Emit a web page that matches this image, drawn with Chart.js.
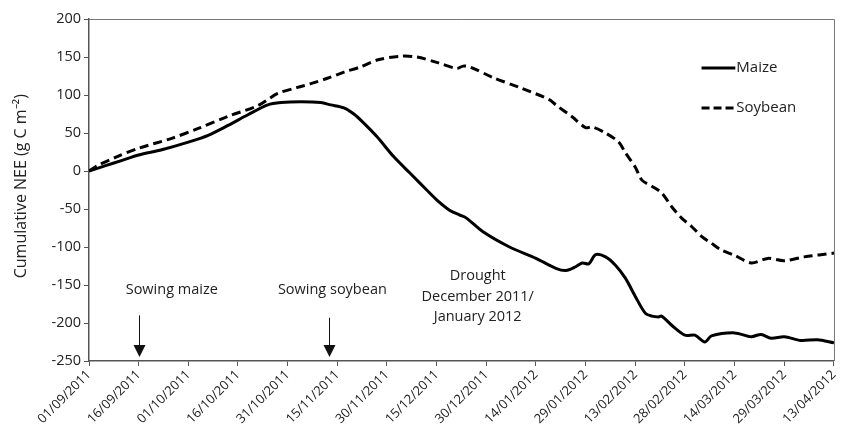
<!DOCTYPE html>
<html>
<head>
<meta charset="utf-8">
<script src="https://cdn.jsdelivr.net/npm/chart.js@4/dist/chart.umd.min.js"></script>
<style>
  html, body { margin: 0; padding: 0; background: #fff; }
  #wrap { width: 846px; height: 431px; }
</style>
</head>
<body>
<div id="wrap"><canvas id="neeChart"></canvas></div>
<script>
// Days since 01/09/2011 and cumulative NEE (g C m-2)
const maizeDays = [0, 5, 10, 15, 22, 30, 36, 42, 48, 54, 58, 64, 70, 73, 77, 80, 83, 87, 92, 97, 102, 105, 109, 112, 114, 119, 127, 135, 141, 144, 147, 149, 151, 153, 156, 159, 162, 165, 168, 170, 172, 173, 176, 180, 183, 186, 188, 195, 200, 203, 206, 210, 215, 220, 225];
const maizeNEE = [0, 7, 14, 21, 28, 38, 47, 60, 74, 87, 90, 91, 90, 87, 83, 75, 63, 45, 19, -3, -25, -38, -52, -58, -62, -80, -100, -115, -128, -131, -126, -121, -122, -110, -113, -124, -141, -165, -187, -191, -192, -191, -203, -216, -216, -225, -217, -213, -218, -215, -220, -218, -223, -222, -226];

const soyDays = [0, 3, 8, 15, 25, 33, 42, 51, 57, 63, 67, 72, 77, 82, 87, 94, 99, 105, 111, 113, 115, 122, 130, 139, 141, 146, 150, 152, 156, 160, 162, 165, 167, 170, 173, 176, 179, 182, 185, 188, 191, 195, 200, 205, 210, 216, 225];
const soyNEE = [0, 8, 18, 30, 43, 56, 72, 86, 102, 110, 115, 122, 130, 137, 146, 151, 150, 143, 135, 138, 137, 123, 110, 94, 87, 71, 57, 58, 50, 38, 24, 5, -12, -20, -29, -47, -62, -73, -86, -95, -104, -111, -121, -115, -118, -113, -108];

const yTicks = [-250, -200, -150, -100, -50, 0, 50, 100, 150, 200];
const startDate = new Date(2011, 8, 1);

const FONT = '"Open Sans", sans-serif';
const TEXT = '#222';
const AXIS = '#555';

function dateLabel(day) {
    const d = new Date(startDate.getTime());
    d.setDate(d.getDate() + day);
    const dd = String(d.getDate()).padStart(2, '0');
    const mm = String(d.getMonth() + 1).padStart(2, '0');
    return dd + '/' + mm + '/' + d.getFullYear();
}

// box, axis title, arrows, notes and legend
const extras = {
    id: 'extras',
    afterDraw(chart) {
        const c = chart.ctx;
        const a = chart.chartArea;
        const xs = chart.scales.x;
        const ys = chart.scales.y;
        const px = v => xs.getPixelForValue(v);
        const py = v => ys.getPixelForValue(v);

        c.save();
        // top and right frame
        c.strokeStyle = '#777';
        c.lineWidth = 1;
        c.beginPath();
        c.moveTo(a.left, a.top + 0.5);
        c.lineTo(a.right + 0.5, a.top + 0.5);
        c.lineTo(a.right + 0.5, a.bottom);
        c.stroke();

        // y axis title
        c.save();
        c.translate(21, py(-20));
        c.rotate(-Math.PI / 2);
        c.fillStyle = TEXT;
        c.font = '16px ' + FONT;
        c.textAlign = 'center';
        c.textBaseline = 'middle';
        c.fillText('Cumulative NEE (g C m\u207B\u00B2)', 0, 0);
        c.restore();

        // notes
        c.fillStyle = TEXT;
        c.font = '14.5px ' + FONT;
        c.textAlign = 'center';
        c.textBaseline = 'middle';
        c.fillText('Sowing maize', px(25), py(-157));
        c.fillText('Sowing soybean', px(73.5), py(-157));
        c.fillText('Drought', px(117.4), py(-138));
        c.fillText('December 2011/', px(117.4), py(-165));
        c.fillText('January 2012', px(117.4), py(-192));

        // arrows
        function arrow(day, fromV) {
            const x = Math.round(px(day)) + 0.5;
            const y0 = py(fromV);
            const y1 = a.bottom - 4;
            c.strokeStyle = '#111';
            c.lineWidth = 1;
            c.beginPath();
            c.moveTo(x, y0);
            c.lineTo(x, y1 - 10);
            c.stroke();
            c.fillStyle = '#111';
            c.beginPath();
            c.moveTo(x - 6, y1 - 12);
            c.lineTo(x + 6, y1 - 12);
            c.lineTo(x, y1);
            c.closePath();
            c.fill();
        }
        arrow(15, -190);
        arrow(72.5, -193);

        // legend
        const lx0 = px(185), lx1 = px(195.2);
        const entries = [
            { label: 'Maize', y: py(135.5), dash: [] },
            { label: 'Soybean', y: py(83), dash: [8, 4] }
        ];
        entries.forEach(e => {
            c.strokeStyle = '#000';
            c.lineWidth = 3;
            c.setLineDash(e.dash);
            c.beginPath();
            c.moveTo(lx0, e.y);
            c.lineTo(lx1, e.y);
            c.stroke();
            c.setLineDash([]);
            c.fillStyle = TEXT;
            c.font = '15px ' + FONT;
            c.textAlign = 'left';
            c.fillText(e.label, lx1 + 1, e.y);
        });
        c.restore();
    }
};

const ctx = document.getElementById('neeChart').getContext('2d');
const neeChart = new Chart(ctx, {
    type: 'line',
    data: {
        datasets: [{
            label: 'Maize',
            data: maizeDays.map((d, i) => ({ x: d, y: maizeNEE[i] })),
            borderColor: '#000',
            borderWidth: 3,
            pointRadius: 0,
            tension: 0.3,
            fill: false
        }, {
            label: 'Soybean',
            data: soyDays.map((d, i) => ({ x: d, y: soyNEE[i] })),
            borderColor: '#000',
            borderWidth: 3,
            borderDash: [9, 5],
            pointRadius: 0,
            tension: 0.3,
            fill: false
        }]
    },
    options: {
        responsive: true,
        maintainAspectRatio: false,
        animation: false,
        layout: {
            padding: { top: 19, right: 4, left: 0, bottom: 0 }
        },
        scales: {
            x: {
                type: 'linear',
                min: 0,
                max: 225,
                afterBuildTicks: scale => {
                    scale.ticks = [];
                    for (let v = 0; v <= 225; v += 15) scale.ticks.push({ value: v });
                },
                afterFit: scale => { scale.height = 70; },
                border: { display: true, color: AXIS, width: 1.5 },
                grid: {
                    display: true,
                    drawOnChartArea: false,
                    drawTicks: true,
                    tickLength: 5,
                    color: AXIS
                },
                ticks: {
                    autoSkip: false,
                    minRotation: 45,
                    maxRotation: 45,
                    padding: 1,
                    color: TEXT,
                    font: { family: FONT, size: 13 },
                    callback: v => dateLabel(v)
                }
            },
            y: {
                min: -250,
                max: 200,
                afterBuildTicks: scale => {
                    scale.ticks = yTicks.map(v => ({ value: v }));
                },
                afterFit: scale => { scale.width = 89; },
                border: { display: true, color: AXIS, width: 1.5 },
                grid: {
                    display: true,
                    drawOnChartArea: false,
                    drawTicks: true,
                    tickLength: 5,
                    color: AXIS
                },
                ticks: {
                    padding: 3,
                    color: TEXT,
                    font: { family: FONT, size: 14.5 }
                }
            }
        },
        plugins: {
            legend: { display: false },
            tooltip: { enabled: false }
        }
    },
    plugins: [extras]
});
</script>
</body>
</html>
